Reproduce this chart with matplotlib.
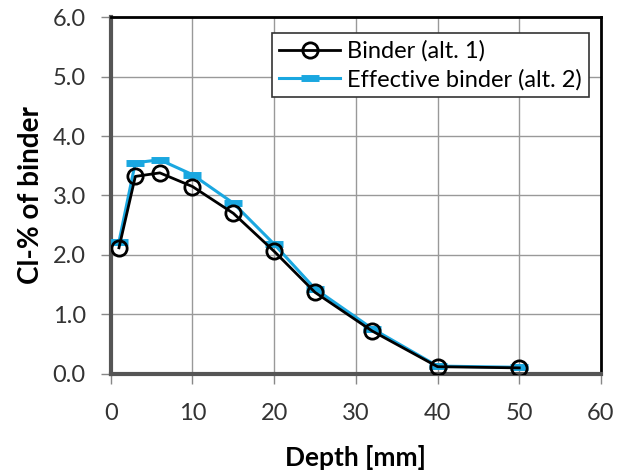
import matplotlib.pyplot as plt

depth = [1, 3, 6, 10, 15, 20, 25, 32, 40, 50]
binder = [2.12, 3.32, 3.38, 3.15, 2.70, 2.06, 1.37, 0.72, 0.12, 0.10]
effective = [2.22, 3.55, 3.60, 3.35, 2.87, 2.18, 1.43, 0.76, 0.13, 0.11]

plt.rcParams['font.family'] = ['Lato', 'DejaVu Sans']

fig = plt.figure(figsize=(6.26, 4.75), dpi=100)
ax = fig.add_axes([0.177, 0.213, 0.783, 0.751])

ax.plot(depth, binder, color="black", lw=2, marker="o", ms=11,
        mfc="none", mec="black", mew=2, label="Binder (alt. 1)", zorder=4)
ax.plot(depth, effective, color="#1aa7e0", lw=2.2, marker="_", ms=13,
        mew=5, label="Effective binder (alt. 2)", zorder=3)

ax.set_xlim(0, 60)
ax.set_ylim(0, 6)
ax.set_xticks(range(0, 61, 10))
ax.set_yticks([0, 1, 2, 3, 4, 5, 6])
ax.set_yticklabels([f"{v:.1f}" for v in range(7)])
ax.grid(True, color="#999999", lw=1)
ax.set_axisbelow(True)
ax.tick_params(direction="out", length=7, color="#888888", labelsize=17,
               labelcolor="#333333", width=1)
ax.tick_params(axis="x", pad=14)
ax.tick_params(axis="y", pad=11)

for side in ["left", "bottom"]:
    ax.spines[side].set_color("#555555")
    ax.spines[side].set_linewidth(3)
for side in ["top", "right"]:
    ax.spines[side].set_color("black")
    ax.spines[side].set_linewidth(2)

ax.set_xlabel("Depth [mm]", fontsize=19, fontweight="bold", labelpad=15)
ax.set_ylabel("Cl-% of binder", fontsize=20, fontweight="bold", labelpad=6)

leg = ax.legend(loc="upper right", bbox_to_anchor=(1.0, 0.988), fontsize=17,
                fancybox=False, framealpha=1, edgecolor="#333333",
                handlelength=2.6, borderpad=0.3, labelspacing=0.3,
                handletextpad=0.3)
leg.get_frame().set_linewidth(1.2)

fig.savefig("out.png", dpi=100)
